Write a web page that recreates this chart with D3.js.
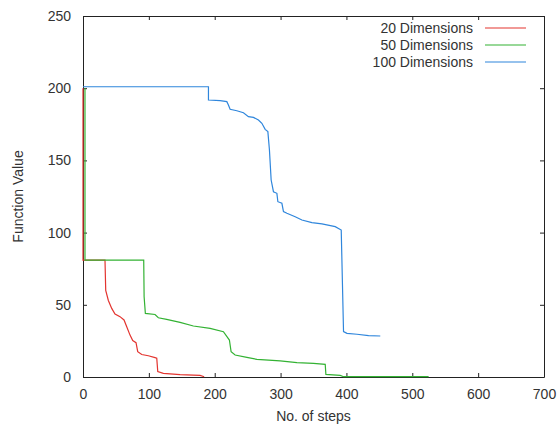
<!DOCTYPE html>
<html>
<head>
<meta charset="utf-8">
<script src="https://cdn.jsdelivr.net/npm/d3@7"></script>
<style>
  html, body { margin: 0; padding: 0; background: #fff; }
  svg { display: block; font-family: "Liberation Sans", Arial, sans-serif; }
  .axis text { font-size: 14px; fill: #333; }
  .axis path, .axis line { stroke: #222; stroke-width: 1; }
</style>
</head>
<body>
<svg id="chart" width="558" height="432"></svg>
<script>
// Best function value found so far, per step, for each problem size
const seriesNames = ["20 Dimensions", "50 Dimensions", "100 Dimensions"];
const seriesColors = ["#e3342f", "#33b233", "#2f86dc"];

const steps20 = [0, 0, 33.4, 34.5, 38.5, 43.6, 48.6, 56.2, 62.3, 66.4, 71.4, 75.5, 80.5, 83.1, 89.2, 99.2, 109.4, 112, 113.5, 122, 147.4, 177.8, 184];
const values20 = [200, 81, 81, 60, 53, 47.5, 43.6, 41.8, 39.5, 34.8, 29, 25.2, 23.8, 17.5, 15.6, 14.7, 13.4, 13, 3.7, 2.5, 1.6, 1.1, 0.2];

const steps50 = [3, 3, 92.2, 92.8, 94.7, 109.4, 114.4, 127, 147.4, 167.6, 193, 213.2, 222.3, 224.9, 231, 248.8, 264, 299.4, 324.8, 350, 367.8, 368.8, 390.6, 395.6, 524.8];
const values50 = [200, 81, 81, 55.6, 44, 43.3, 41, 39.9, 37.8, 35.3, 33.7, 31.4, 25.6, 17.5, 15.2, 13.6, 12.2, 11.1, 9.9, 9.5, 8.8, 1.8, 1.1, 0.2, 0.2];

const steps100 = [0, 190.5, 190.5, 208.2, 218.4, 220.8, 223.4, 233.6, 243.6, 251.2, 258.8, 266.4, 271.6, 276.6, 280.7, 283.1, 285.7, 289.2, 294.4, 295.9, 302, 304.4, 309.6, 322.2, 332.4, 347.6, 362.8, 383, 392.1, 395.6, 400.8, 416, 433.6, 451.4];
const values100 = [201, 201, 191.8, 191.4, 190.7, 188.4, 185.4, 184.4, 183, 180.3, 179.8, 178, 175.7, 171.5, 169.9, 157.2, 136.4, 128.3, 127.2, 121.4, 120.3, 114.5, 113.4, 111, 108.7, 106.9, 106, 104.1, 101.8, 31.4, 30.2, 29.6, 28.6, 28.4];

const xTicks = [0, 100, 200, 300, 400, 500, 600, 700];
const yTicks = [0, 50, 100, 150, 200, 250];

const svg = d3.select("#chart");
const plotLeft = 83, plotRight = 544, plotTop = 16, plotBottom = 377;

const x = d3.scaleLinear().domain([0, 700]).range([plotLeft, plotRight]);
const y = d3.scaleLinear().domain([0, 250]).range([plotBottom, plotTop]);

// Framed plot box with inward ticks on all four sides
svg.append("g").attr("class", "axis")
  .attr("transform", `translate(0,${plotBottom})`)
  .call(d3.axisBottom(x).tickValues(xTicks).tickSizeInner(-4).tickSizeOuter(0).tickPadding(12));
svg.append("g").attr("class", "axis")
  .attr("transform", `translate(0,${plotTop})`)
  .call(d3.axisTop(x).tickValues(xTicks).tickSizeInner(-4).tickSizeOuter(0).tickFormat(""));
svg.append("g").attr("class", "axis")
  .attr("transform", `translate(${plotLeft},0)`)
  .call(d3.axisLeft(y).tickValues(yTicks).tickSizeInner(-4).tickSizeOuter(0).tickPadding(12));
svg.append("g").attr("class", "axis")
  .attr("transform", `translate(${plotRight},0)`)
  .call(d3.axisRight(y).tickValues(yTicks).tickSizeInner(-4).tickSizeOuter(0).tickFormat(""));

// Curves
const series = [
  { name: seriesNames[0], color: seriesColors[0], steps: steps20, values: values20 },
  { name: seriesNames[1], color: seriesColors[1], steps: steps50, values: values50 },
  { name: seriesNames[2], color: seriesColors[2], steps: steps100, values: values100 }
];

const line = d3.line().x(d => x(d[0])).y(d => y(d[1]));

svg.append("g").selectAll("path")
  .data(series)
  .join("path")
  .attr("fill", "none")
  .attr("stroke", d => d.color)
  .attr("stroke-width", 1.2)
  .attr("d", d => line(d.steps.map((s, i) => [s, d.values[i]])));

// Legend, top right inside the box
const legend = svg.append("g");
series.forEach((s, i) => {
  const ly = 28 + i * 17;
  legend.append("text")
    .attr("x", 473).attr("y", ly).attr("dy", "0.35em")
    .attr("text-anchor", "end")
    .attr("font-size", 14).attr("fill", "#333")
    .text(s.name);
  legend.append("line")
    .attr("x1", 485).attr("x2", 526)
    .attr("y1", ly).attr("y2", ly)
    .attr("stroke", s.color).attr("stroke-width", 1.2);
});

// Axis titles
svg.append("text")
  .attr("x", (plotLeft + plotRight) / 2).attr("y", 421)
  .attr("text-anchor", "middle").attr("font-size", 14).attr("fill", "#333")
  .text("No. of steps");
svg.append("text")
  .attr("transform", `translate(23,${(plotTop + plotBottom) / 2}) rotate(-90)`)
  .attr("text-anchor", "middle").attr("font-size", 14).attr("fill", "#333")
  .text("Function Value");
</script>
</body>
</html>
